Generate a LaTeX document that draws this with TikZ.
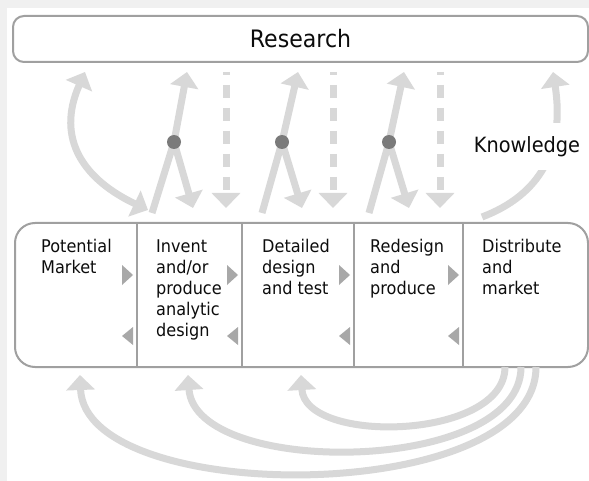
\documentclass[tikz,border=0pt]{standalone}
\usepackage{fontspec}
\setmainfont{DejaVu Sans}[FakeStretch=0.92]
\usetikzlibrary{arrows.meta}

\definecolor{framegrey}{RGB}{240,240,240}
\definecolor{flowgrey}{RGB}{216,216,216}
\definecolor{boxgrey}{RGB}{160,160,160}
\definecolor{markgrey}{RGB}{168,168,168}
\definecolor{dotgrey}{RGB}{122,122,122}
\definecolor{textblack}{RGB}{12,12,12}

\tikzset{
	flowtip/.tip={Triangle[width=28pt,length=15pt]},
	flow/.style={line width=7pt, draw=flowgrey, -flowtip},
	flowboth/.style={line width=7pt, draw=flowgrey, flowtip-flowtip},
	stage/.style={anchor=north west, inner sep=0pt, align=left, text=textblack, font=\fontsize{17.5}{21}\selectfont},
	junction/.style={circle, fill=dotgrey, inner sep=0pt, minimum size=14pt},
}

\begin{document}
\begin{tikzpicture}[x=1pt, y=-1pt]
		% Frame
		\fill[framegrey] (0,0) rectangle (589,481);
		\fill[white] (7,8) rectangle (589,481);
		\useasboundingbox (0,0) rectangle (589,481);
		
		% Research
		\node[draw=boxgrey, line width=2pt, rounded corners=11pt, minimum width=575pt, minimum height=46pt, text=textblack, font=\fontsize{24}{28}\selectfont] (research) at (300.5,39) {Research};
		
		% Stages
		\draw[boxgrey, line width=2pt, rounded corners=20pt] (15,223) rectangle (588,367);
		\foreach \x in {137,242,354,463}
		{
			\draw[boxgrey, line width=1.5pt] (\x,223) -- (\x,367);
			\fill[markgrey] (\x-15,265) -- (\x-4,275) -- (\x-15,285) -- cycle;
			\fill[markgrey] (\x-4,327) -- (\x-15,336) -- (\x-4,345) -- cycle;
		}
		\node[stage] (market) at (41,239.5) {Potential\\Market};
		\node[stage] (invent) at (156,239.5) {Invent\\and/or\\produce\\analytic\\design};
		\node[stage] (detail) at (262,239.5) {Detailed\\design\\and test};
		\node[stage] (redesign) at (370,239.5) {Redesign\\and\\produce};
		\node[stage] (distribute) at (482,239.5) {Distribute\\and\\market};
		
		% Upward flows
		\draw[flowboth] (85,72) .. controls (55,140) and (85,180) .. (148,210);
		\foreach \b/\d/\u/\t/\s [count=\i] in {152/174/187/193/226, 262/282/298/302/333, 369/389/404/409/440}
		{
			\coordinate (low\i) at (\b,213);
			\coordinate (fork\i) at (\d,142);
			\coordinate (up\i) at (\u,72);
			\coordinate (down\i) at (\t,208);
			\draw[flow] (low\i) -- (fork\i) -- (up\i);
			\draw[flow] (fork\i) -- (down\i);
			\draw[flow, dash pattern=on 13pt off 10pt, dash phase=10pt] (\s,72) -- (\s,208);
			\node[junction] (dot\i) at (fork\i) {};
		}
		
		% Knowledge
		\draw[flow] (482,217) .. controls (540,195) and (565,150) .. (553,72);
		\node[fill=white, inner xsep=4pt, inner ysep=13pt, text=textblack, font=\fontsize{21}{25}\selectfont] (knowledge) at (527,146.5) {Knowledge};
		
		% Feedback flows
		\draw[flow] (505,367) .. controls (505,440) and (305,445) .. (301,375);
		\draw[flow] (521,367) .. controls (521,475) and (195,478) .. (188,375);
		\draw[flow] (536,367) .. controls (536,507) and (85,507) .. (80,375);
\end{tikzpicture}
\end{document}
